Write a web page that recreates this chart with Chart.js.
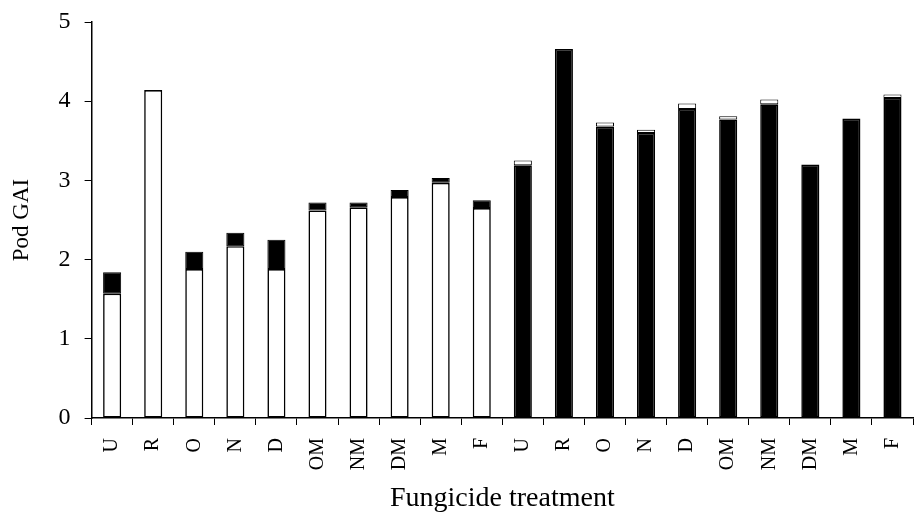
<!DOCTYPE html>
<html>
<head>
<meta charset="utf-8">
<script src="https://cdn.jsdelivr.net/npm/chart.js@4"></script>
<style>
  html, body { margin: 0; padding: 0; background: #fff; }
</style>
</head>
<body>
<canvas id="bar-chart" width="914" height="514"></canvas>
<script>
// treatments, two groups of ten
var labels = ['U','R','O','N','D','OM','NM','DM','M','F','U','R','O','N','D','OM','NM','DM','M','F'];

// lower part of each bar
var lowerPart = [1.57, 4.14, 1.88, 2.17, 1.88, 2.62, 2.66, 2.79, 2.97, 2.65,
                 3.19, 4.66, 3.68, 3.60, 3.90, 3.77, 3.96, 3.20, 3.78, 4.04];
// upper part stacked on top
var upperPart = [0.27, 0, 0.22, 0.17, 0.37, 0.10, 0.06, 0.09, 0.06, 0.10,
                 0.06, 0, 0.05, 0.04, 0.07, 0.04, 0.06, 0, 0, 0.045];

var yTicks = [0, 1, 2, 3, 4, 5];

var serif = '"Liberation Serif", "Times New Roman", serif';

var lowerColors = labels.map(function(l, i) { return i < 10 ? '#ffffff' : '#000000'; });
var upperColors = labels.map(function(l, i) { return i < 10 ? '#000000' : '#ffffff'; });

var ctx = document.getElementById("bar-chart");
var chart = new Chart(ctx, {
  type: 'bar',
  data: {
    labels: labels,
    datasets: [{
      data: lowerPart,
      backgroundColor: lowerColors,
      borderColor: '#000',
      borderWidth: 1.6,
      borderSkipped: false,
      barPercentage: 0.88,
      categoryPercentage: 0.5
    }, {
      data: upperPart,
      backgroundColor: upperColors,
      borderColor: '#000',
      borderWidth: 1,
      borderSkipped: false,
      barPercentage: 0.88,
      categoryPercentage: 0.5
    }]
  },
  options: {
    responsive: false,
    animation: false,
    layout: { padding: { top: 22, right: 1, left: 8, bottom: 0 } },
    plugins: {
      legend: { display: false },
      tooltip: { enabled: false }
    },
    scales: {
      x: {
        stacked: true,
        afterFit: function(axis) {
          axis.height = 96;
          axis.paddingLeft = 0;
          axis.paddingRight = 0;
        },
        grid: { offset: true, drawOnChartArea: false, tickLength: 7, color: '#000', lineWidth: 1 },
        border: { color: '#000', width: 1.5 },
        ticks: {
          minRotation: 90, maxRotation: 90, autoSkip: false,
          color: '#000', padding: 13,
          font: { family: serif, size: 20 }
        },
        title: {
          display: true, text: 'Fungicide treatment', color: '#000',
          font: { family: serif, size: 28, lineHeight: 1 }, padding: { top: 4, bottom: 1 }
        }
      },
      y: {
        stacked: true,
        min: 0, max: 5,
        afterBuildTicks: function(axis) {
          axis.ticks = yTicks.map(function(v) { return { value: v }; });
        },
        afterFit: function(axis) { axis.paddingTop = 0; axis.paddingBottom = 0; },
        grid: { drawOnChartArea: false, tickLength: 7, color: '#000', lineWidth: 1 },
        border: { color: '#000', width: 1.5 },
        ticks: {
          color: '#000', padding: 14,
          font: { family: serif, size: 24 }
        },
        title: {
          display: true, text: 'Pod GAI', color: '#000',
          font: { family: serif, size: 23 }, padding: { top: 0, bottom: 9 }
        }
      }
    }
  }
});
</script>
</body>
</html>
